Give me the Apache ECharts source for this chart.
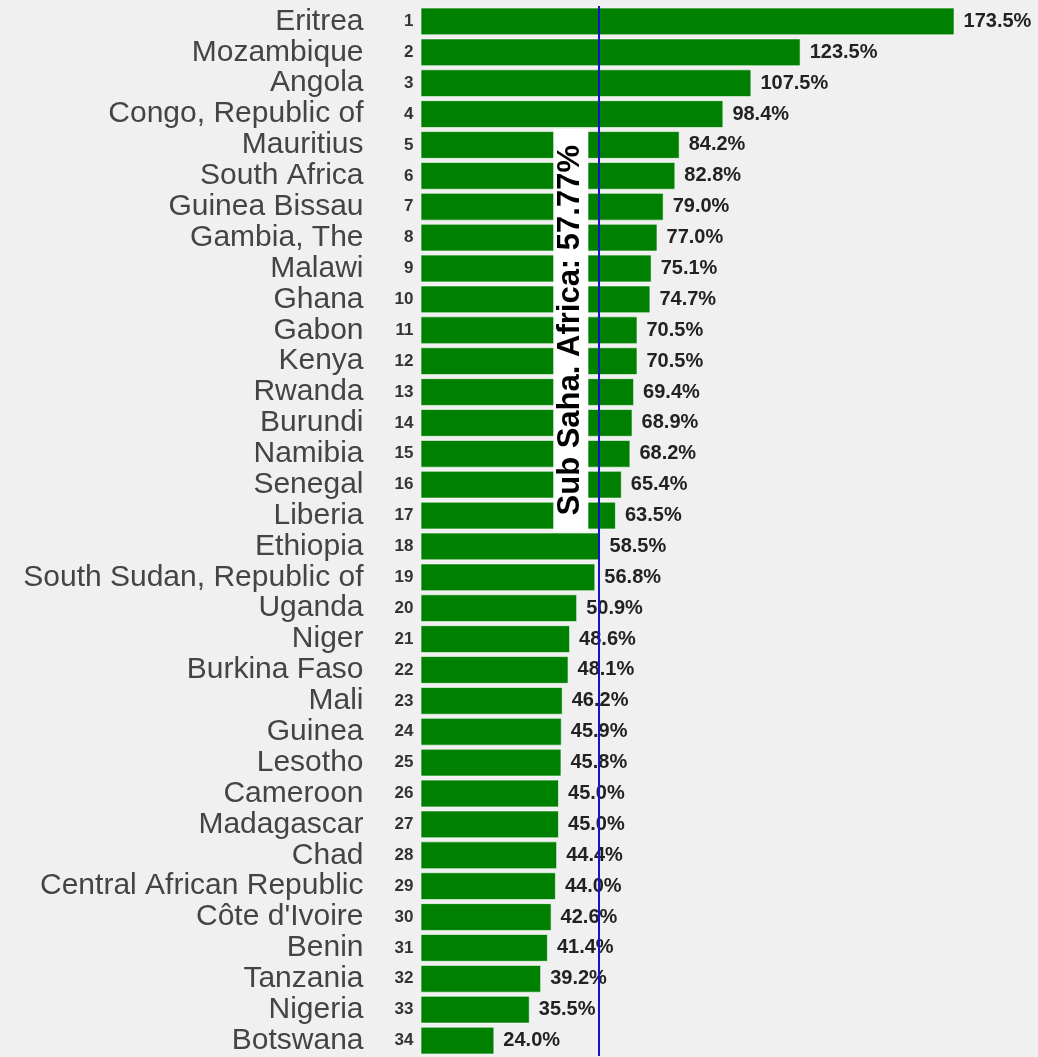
<!DOCTYPE html>
<html>
<head>
<meta charset="utf-8">
<script src="https://cdn.jsdelivr.net/npm/echarts@6/dist/echarts.min.js"></script>
<style>
  html, body { margin: 0; padding: 0; background: #f0f0f0; }
  #chart { width: 1038px; height: 1057px; }
</style>
</head>
<body>
<div id="chart"></div>
<script>
const countries = ['Eritrea', 'Mozambique', 'Angola', 'Congo, Republic of', 'Mauritius', 'South Africa',
  'Guinea Bissau', 'Gambia, The', 'Malawi', 'Ghana', 'Gabon', 'Kenya', 'Rwanda', 'Burundi', 'Namibia',
  'Senegal', 'Liberia', 'Ethiopia', 'South Sudan, Republic of', 'Uganda', 'Niger', 'Burkina Faso', 'Mali',
  'Guinea', 'Lesotho', 'Cameroon', 'Madagascar', 'Chad', 'Central African Republic', "Côte d'Ivoire",
  'Benin', 'Tanzania', 'Nigeria', 'Botswana']
const values = [173.5, 123.5, 107.5, 98.4, 84.2, 82.8, 79.0, 77.0, 75.1, 74.7, 70.5, 70.5, 69.4, 68.9,
  68.2, 65.4, 63.5, 58.5, 56.8, 50.9, 48.6, 48.1, 46.2, 45.9, 45.8, 45.0, 45.0, 44.4, 44.0, 42.6, 41.4,
  39.2, 35.5, 24.0]
const ranks = countries.map((_, i) => i + 1)
const regionName = 'Sub Saha. Africa'
const regionAvg = 57.77

const chart = echarts.init(document.getElementById('chart'))

const option = {
  backgroundColor: '#f0f0f0',
  animation: false,
  grid: { left: 420.5, width: 615.6, top: 6, bottom: 1 },
  xAxis: {
    type: 'value',
    min: 0,
    max: 200,
    show: false
  },
  yAxis: {
    type: 'category',
    data: countries,
    inverse: true,
    axisLine: { show: false },
    axisTick: { show: false },
    axisLabel: {
      margin: 7,
      formatter: (name, i) => `{n|${name}}{r|${ranks[i]}}`,
      rich: {
        n: { fontFamily: 'Liberation Sans, Arial', fontSize: 30, color: '#444' },
        r: { fontFamily: 'Liberation Sans, Arial', fontSize: 17, fontWeight: 'bold', color: '#333', width: 50, align: 'right' }
      }
    }
  },
  series: [
    {
      type: 'bar',
      data: values,
      barCategoryGap: '10%',
      itemStyle: { color: '#008000', borderColor: 'rgba(255,255,255,0.6)', borderWidth: 1 },
      label: {
        show: true,
        position: 'right',
        distance: 9,
        fontFamily: 'Liberation Sans, Arial',
        fontSize: 20,
        fontWeight: 'bold',
        color: '#222',
        formatter: (p) => p.value.toFixed(1) + '%'
      },
      markLine: {
        silent: true,
        symbol: 'none',
        z: 10,
        data: [
          {
            xAxis: regionAvg,
            lineStyle: { color: '#1414c8', width: 2, type: 'solid' },
            label: { show: false }
          },
          [
            {
              coord: [regionAvg, 'Liberia'],
              lineStyle: { color: 'rgba(0,0,0,0)', width: 1 },
              label: {
                show: true,
                position: 'insideMiddleTop',
                distance: 10,
                formatter: `${regionName}: ${regionAvg}%`,
                fontFamily: 'Liberation Sans, Arial',
                fontSize: 31,
                fontWeight: 'bold',
                color: '#000',
                backgroundColor: '#ffffff',
                lineHeight: 31,
                padding: [2, 16, 2, 16]
              }
            },
            { coord: [regionAvg, 'Mauritius'] }
          ]
        ]
      }
    }
  ]
}

chart.setOption(option)
</script>
</body>
</html>
